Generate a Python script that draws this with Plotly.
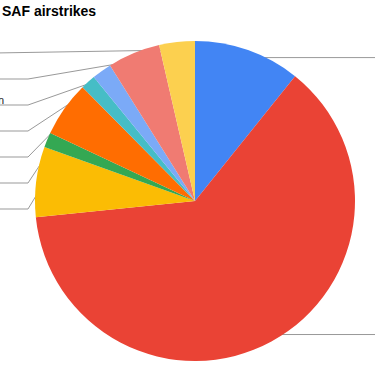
import math
import plotly.graph_objects as go

# ---- data ----
categories = ["Iraq", "Syria", "Libya", "Somalia", "Yemen", "Mali", "Afghanistan", "Pakistan", "Other"]
values = [10.75, 62.6, 7.1, 1.5, 5.6, 1.5, 2.0, 5.3, 3.6]
colors = ["#4285F4", "#EA4335", "#FBBC04", "#34A853", "#FF6D01",
          "#46BDC6", "#7BAAF7", "#F07B72", "#FCD04F"]
title_text = "SAF airstrikes"

# ---- layout constants (pixels) ----
W, H = 375, 366
CX, CY, R = 195, 201, 160
DOT_R = 0.95 * R
ELBOW_X = 28
LEFT_Y0, LEFT_STEP = 53, 26
LINE_COLOR = "#999999"
VISIBLE_LABEL = "Afghanistan"   # the only left label whose tail reaches the frame

fig = go.Figure()
fig.add_trace(go.Pie(
    labels=categories, values=values, sort=False, direction="clockwise",
    rotation=0, marker=dict(colors=colors, line=dict(width=0)),
    textinfo="none", hoverinfo="label+percent", showlegend=False,
    domain=dict(x=[(CX - R) / W, (CX + R) / W],
                y=[(H - CY - R) / H, (H - CY + R) / H]),
))

# leader lines computed from slice midpoints
total = sum(values)
cum = 0.0
lx, ly, dx, dy = [], [], [], []
left_items = []
right_items = []
for i, v in enumerate(values):
    mid = (cum + v / 2) / total * 360.0
    cum += v
    t = math.radians(mid)
    px = CX + DOT_R * math.sin(t)
    py = CY - DOT_R * math.cos(t)
    dx.append(px); dy.append(py)
    if mid < 180:
        right_items.append((i, px, py))
    else:
        left_items.append((i, px, py, mid))

left_items.sort(key=lambda it: -it[3])
annotations = []
for k, (i, px, py, mid) in enumerate(left_items):
    yy = LEFT_Y0 + k * LEFT_STEP
    lx += [px, ELBOW_X, -5, None]
    ly += [py, yy, yy, None]
    xr = 5.5 if categories[i] == VISIBLE_LABEL else -3
    annotations.append(dict(
        x=xr, y=yy - 5.5, xref="x", yref="y", text=categories[i],
        showarrow=False, xanchor="right", yanchor="middle",
        font=dict(family="Arial", size=11, color="#222222")))
for (i, px, py) in right_items:
    lx += [px, W + 5, None]
    ly += [py, py, None]
    annotations.append(dict(
        x=W + 10, y=py - 5.5, xref="x", yref="y", text=categories[i],
        showarrow=False, xanchor="left", yanchor="middle",
        font=dict(family="Arial", size=11, color="#222222")))

fig.add_trace(go.Scatter(x=lx, y=ly, mode="lines", line=dict(color=LINE_COLOR, width=1),
                         hoverinfo="skip", showlegend=False, cliponaxis=False))
fig.add_trace(go.Scatter(x=dx, y=dy, mode="markers",
                         marker=dict(color=LINE_COLOR, size=5),
                         hoverinfo="skip", showlegend=False, cliponaxis=False))

annotations.append(dict(
    x=0, y=10.5, xref="x", yref="y", text="<b>" + title_text + "</b>",
    showarrow=False, xanchor="left", yanchor="middle",
    font=dict(family="Arial", size=14, color="#000000")))

fig.update_layout(
    width=W, height=H, margin=dict(l=0, r=0, t=0, b=0),
    paper_bgcolor="white", plot_bgcolor="rgba(0,0,0,0)",
    xaxis=dict(range=[0, W], visible=False, fixedrange=True, domain=[0, 1]),
    yaxis=dict(range=[H, 0], visible=False, fixedrange=True, domain=[0, 1]),
    annotations=annotations,
)
fig.write_html("out.html", config={"displayModeBar": False},
               post_script="document.body.style.margin='0';document.body.style.padding='0';"
                           "document.body.style.overflow='hidden';")
